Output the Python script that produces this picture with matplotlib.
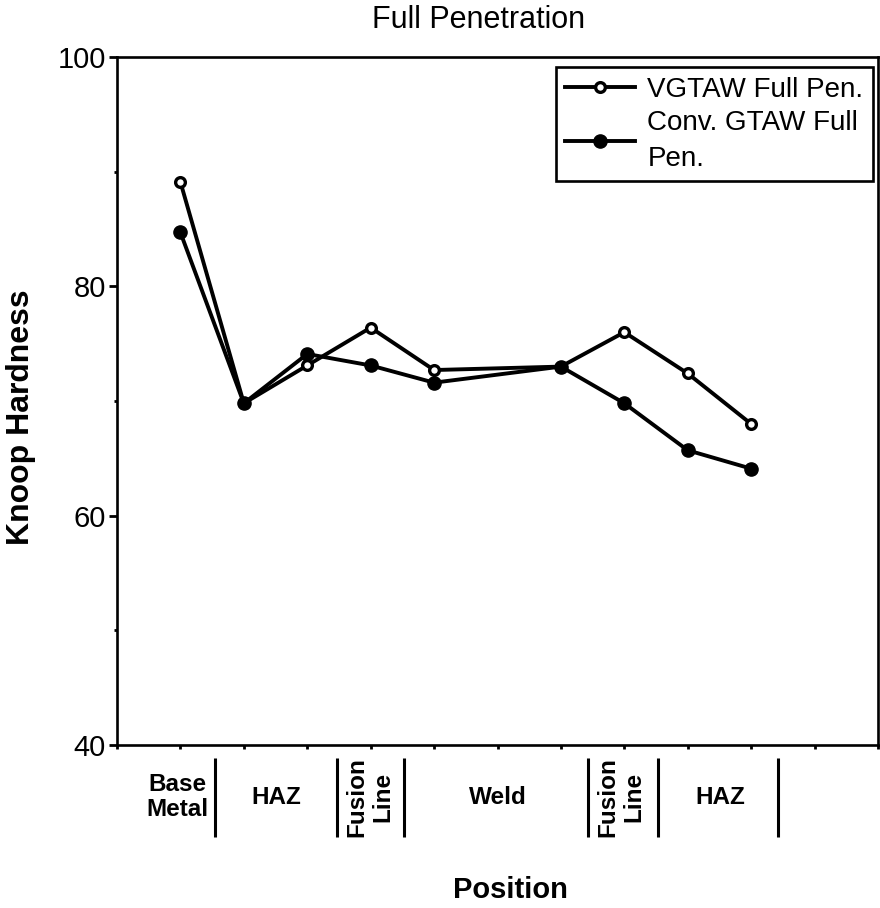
import matplotlib
matplotlib.use("Agg")
import matplotlib.pyplot as plt
import matplotlib.transforms as mtransforms
import numpy as np

plt.rcParams["font.family"] = ["Liberation Sans", "DejaVu Sans"]

# measurement positions along the weld cross-section (axis runs 0..12)
POS = [1, 2, 3, 4, 5, 7, 8, 9, 10]
VGTAW = [89.1, 69.8, 73.1, 76.4, 72.7, 73.0, 76.0, 72.4, 68.0]
CONV = [84.7, 69.8, 74.1, 73.1, 71.6, 73.0, 69.8, 65.7, 64.1]
SERIES_LABELS = ["VGTAW Full Pen.", "Conv. GTAW Full\nPen."]

# zone labels under the axis and where they sit (data x)
ZONES = ["Base\nMetal", "HAZ", "Fusion\nLine", "Weld", "Fusion\nLine", "HAZ"]
ZONE_X = [0.95, 2.52, 3.99, 6.01, 7.95, 9.51]
ZONE_ROT = [0, 0, 90, 0, 90, 0]
SEPARATORS = [1.545, 3.47, 4.525, 7.43, 8.53, 10.42]

fig = plt.figure(figsize=(8.8, 9.08), dpi=100)
ax = fig.add_axes([117 / 880, 163 / 908, 761 / 880, 688 / 908])

ax.plot(POS, VGTAW, "-o", color="black", lw=2.8, ms=7, mew=2.4,
        mfc="white", mec="black", label=SERIES_LABELS[0], zorder=3)
ax.plot(POS, CONV, "-o", color="black", lw=2.8, ms=9.5, mew=1,
        mfc="black", mec="black", label=SERIES_LABELS[1], zorder=4)

ax.set_xlim(0, 12)
ax.set_ylim(40, 100)
ax.set_xticks(np.arange(0, 13))
ax.set_xticklabels([])
ax.set_yticks([40, 60, 80, 100])
ax.set_yticks([50, 70, 90], minor=True)
ax.tick_params(axis="y", which="major", direction="out", length=6, width=2,
               labelsize=21, pad=2)
ax.tick_params(axis="y", which="minor", direction="out", length=2.5, width=2)
ax.tick_params(axis="x", which="major", direction="out", length=3, width=2)
for s in ax.spines.values():
    s.set_linewidth(1.9)

leg = ax.legend(loc="upper right", bbox_to_anchor=(0.9934, 0.9855),
                borderaxespad=0, fontsize=20, frameon=True, fancybox=False,
                edgecolor="black", handlelength=2.5, handletextpad=0.45,
                labelspacing=0.25, borderpad=0.35, framealpha=1)
leg.get_frame().set_linewidth(1.9)
for t in leg.get_texts():
    t.set_linespacing(1.5)

# zone labels and separator bars below the x axis
trans = mtransforms.blended_transform_factory(ax.transData, ax.transAxes)
for name, x, rot in zip(ZONES, ZONE_X, ZONE_ROT):
    ax.text(x, -0.0756, name, transform=trans, ha="center", va="center",
            rotation=rot, fontsize=17.5, fontweight="bold", clip_on=False,
            linespacing=1.15)
for x in SEPARATORS:
    ax.plot([x, x], [-0.019, -0.134], transform=trans, color="black",
            lw=2.2, clip_on=False, solid_capstyle="butt")

fig.text(479 / 880, 1 - 20 / 908, "Full Penetration", ha="center",
         va="center", fontsize=22)
fig.text(510 / 880, 1 - 890 / 908, "Position", ha="center", va="center",
         fontsize=21, fontweight="bold")
fig.text(21 / 880, 1 - 417 / 908, "Knoop Hardness", ha="center",
         va="center", rotation=90, fontsize=23, fontweight="bold")

fig.savefig("out.png", dpi=100)
